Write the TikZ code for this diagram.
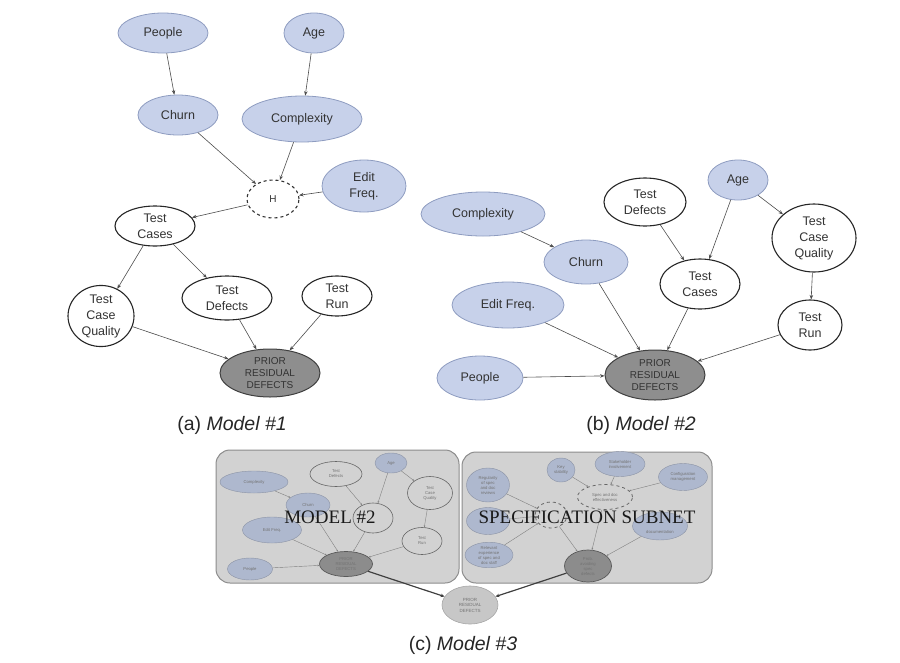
\documentclass[tikz,border=0pt]{standalone}
\usepackage{fontspec}
\setmainfont{Liberation Sans}
\newfontfamily\serifx{Liberation Serif}
\usetikzlibrary{shapes.geometric,arrows.meta}
\definecolor{nblue}{HTML}{C7D1EA}
\definecolor{bblue}{HTML}{8E9CC0}
\definecolor{pgray}{HTML}{8E8E8E}
\definecolor{panelg}{HTML}{D2D2D2}
\definecolor{cblue}{HTML}{AEB8CE}
\definecolor{txt}{HTML}{333333}
\begin{document}
\begin{tikzpicture}[x=1pt,y=-1pt,
  sz/.style 2 args={minimum width=#1, minimum height=#2},
  bn/.style={ellipse, inner sep=0pt, align=center, text=txt,
    font=\fontsize{12.5}{16}\selectfont},
  bnode/.style={bn, fill=nblue, draw=bblue, line width=0.8pt},
  wnode/.style={bn, fill=white, draw=black!85, line width=1.1pt},
  hnode/.style={bn, fill=white, draw=black!80, line width=1.1pt, dashed, font=\fontsize{10}{12}\selectfont},
  pnode/.style={bn, fill=pgray, draw=black!75, line width=1pt, font=\fontsize{10}{12}\selectfont},
  ar/.style={draw=black!70, line width=0.6pt, -{Stealth[length=4.5pt,width=3.5pt]}},
  captxt/.style={font=\fontsize{19.5}{22}\selectfont, text=black!85},
  panel/.style={fill=panelg, draw=black!45, line width=1pt, rounded corners=14pt},
  cn/.style={ellipse, inner sep=0pt, align=center, text=black!55,
    font=\fontsize{4.2}{5}\selectfont},
  cb/.style={cn, fill=cblue, draw=cblue!80!black, line width=0.4pt},
  cw/.style={cn, draw=black!60, line width=0.6pt},
  ch/.style={cn, draw=black!60, line width=0.8pt, dashed},
  cp/.style={cn, fill=black!45, draw=black!65, line width=0.7pt},
  car/.style={draw=black!50, line width=0.4pt, -{Stealth[length=2pt,width=1.6pt]}},
  big/.style={font=\serifx\fontsize{19}{21}\selectfont, text=black!90}
]
\useasboundingbox (0,0) rectangle (900,662);

% ---------------- Model 1 ----------------
\node[bnode, sz={90}{40}] (p1) at (163,33) {People};
\node[bnode, sz={60}{40}] (a1) at (314,33) {Age};
\node[bnode, sz={80}{40}] (ch1) at (178,115) {Churn};
\node[bnode, sz={120}{46}] (co1) at (302,119) {Complexity};
\node[hnode, sz={52}{38}] (h1) at (273,199) {H};
\node[bnode, sz={84}{52}] (ef1) at (364,186) {Edit\\Freq.};
\node[wnode, sz={80}{40}] (tc1) at (155,226) {Test\\Cases};
\node[wnode, sz={66}{58}] (tq1) at (101,316) {Test\\Case\\Quality};
\node[wnode, sz={90}{44}] (td1) at (227,298) {Test\\Defects};
\node[wnode, sz={70}{40}] (tr1) at (337,296) {Test\\Run};
\node[pnode, sz={100}{48}] (pr1) at (270,373) {PRIOR\\RESIDUAL\\DEFECTS};

\draw[ar] (p1) -- (ch1);
\draw[ar] (a1) -- (co1);
\draw[ar] (ch1) -- (h1);
\draw[ar] (co1) -- (h1);
\draw[ar] (ef1) -- (h1);
\draw[ar] (h1) -- (tc1);
\draw[ar] (tc1) -- (tq1);
\draw[ar] (tc1) -- (td1);
\draw[ar] (tq1) -- (pr1);
\draw[ar] (td1) -- (pr1);
\draw[ar] (tr1) -- (pr1);

\node[captxt] (capa) at (232,425) {(a) \textit{Model \#1}};

% ---------------- Model 2 ----------------
\node[bnode, sz={124}{44}] (co2) at (483,214) {Complexity};
\node[bnode, sz={84}{44}] (ch2) at (586,262) {Churn};
\node[wnode, sz={82}{48}] (td2) at (645,202) {Test\\Defects};
\node[bnode, sz={60}{40}] (a2) at (738,180) {Age};
\node[wnode, sz={84}{68}] (tq2) at (814,238) {Test\\Case\\Quality};
\node[wnode, sz={80}{50}] (tc2) at (700,284) {Test\\Cases};
\node[bnode, sz={112}{46}] (ef2) at (508,305) {Edit Freq.};
\node[wnode, sz={64}{50}] (tr2) at (810,325) {Test\\Run};
\node[bnode, sz={86}{44}] (p2) at (480,378) {People};
\node[pnode, sz={100}{50}] (pr2) at (655,375) {PRIOR\\RESIDUAL\\DEFECTS};

\draw[ar] (co2) -- (ch2);
\draw[ar] (ch2) -- (pr2);
\draw[ar] (td2) -- (tc2);
\draw[ar] (a2) -- (tc2);
\draw[ar] (a2) -- (tq2);
\draw[ar] (tq2) -- (tr2);
\draw[ar] (tc2) -- (pr2);
\draw[ar] (ef2) -- (pr2);
\draw[ar] (p2) -- (pr2);
\draw[ar] (tr2) -- (pr2);

\node[captxt] (capb) at (641,425) {(b) \textit{Model \#2}};

% ---------------- Model 3 ----------------
\path[panel] (216,450) rectangle (459,583);
\path[panel] (462,452) rectangle (712,583);

% left sub-panel (model 2 in miniature)
\node[cb, sz={68}{22}] (cC) at (254,482) {Complexity};
\node[cb, sz={44}{24}] (cCh) at (308,505) {Churn};
\node[cw, sz={52}{25}] (cTD) at (336,474) {Test\\Defects};
\node[cb, sz={32}{20}] (cA) at (391,463) {Age};
\node[cw, sz={45}{33}] (cTQ) at (430,493) {Test\\Case\\Quality};
\node[cw, sz={40}{30}] (cTC) at (373,518) {};
\node[cb, sz={59}{26}] (cEF) at (272,530) {Edit Freq.};
\node[cw, sz={40}{27}] (cTR) at (422,541) {Test\\Run};
\node[cb, sz={45}{22}] (cP) at (250,569) {People};
\node[cp, sz={53}{25}] (cPR) at (346,564) {PRIOR\\RESIDUAL\\DEFECTS};

\draw[car] (cC) -- (cCh);
\draw[car] (cCh) -- (cPR);
\draw[car] (cTD) -- (cTC);
\draw[car] (cA) -- (cTC);
\draw[car] (cA) -- (cTQ);
\draw[car] (cTQ) -- (cTR);
\draw[car] (cTC) -- (cPR);
\draw[car] (cEF) -- (cPR);
\draw[car] (cP) -- (cPR);
\draw[car] (cTR) -- (cPR);

\node[big] (m2) at (330,517) {MODEL \#2};

% right sub-panel (specification subnet)
\node[cb, sz={43}{34}] (r1) at (488,485) {Regularity\\of spec\\and doc\\reviews};
\node[cb, sz={28}{24}] (r2) at (561,470) {Key\\stability};
\node[cb, sz={50}{25}] (r3) at (620,464) {Stakeholder\\involvement};
\node[cb, sz={49}{27}] (r4) at (683,477) {Configuration\\management};
\node[ch, sz={55}{25}] (r5) at (605,497) {Spec and doc\\effectiveness};
\node[ch, sz={32}{26}] (r6) at (551,515) {};
\node[cb, sz={43}{27}] (r7) at (488,521) {};
\node[cb, sz={55}{28}] (r8) at (660,526) {};
\node[cn] (r8t) at (660,532) {documentation};
\node[cb, sz={48}{25}] (r9) at (489,555) {Relevant\\experience\\of spec and\\doc staff};
\node[cp, sz={47}{32}] (r10) at (588,566) {Prob.\\avoiding\\spec\\defects};

\draw[car] (r1) -- (r6);
\draw[car] (r7) -- (r6);
\draw[car] (r9) -- (r6);
\draw[car] (r2) -- (r5);
\draw[car] (r3) -- (r5);
\draw[car] (r4) -- (r5);
\draw[car] (r6) -- (r10);
\draw[car] (r5) -- (r10);
\draw[car] (r8) -- (r10);

\node[big] (ss) at (587,517) {SPECIFICATION SUBNET};

% combined node
\node[cn, fill=black!22, draw=black!35, line width=0.6pt, sz={56}{38},
  font=\fontsize{4.5}{5.5}\selectfont] (fin) at (470,605) {PRIOR\\RESIDUAL\\DEFECTS};
\draw[draw=black!75, line width=1.2pt, -{Stealth[length=4pt,width=3.5pt]}] (cPR) -- (fin);
\draw[draw=black!75, line width=1.2pt, -{Stealth[length=4pt,width=3.5pt]}] (r10) -- (fin);

\node[captxt] (capc) at (463,645) {(c) \textit{Model \#3}};
\end{tikzpicture}
\end{document}
